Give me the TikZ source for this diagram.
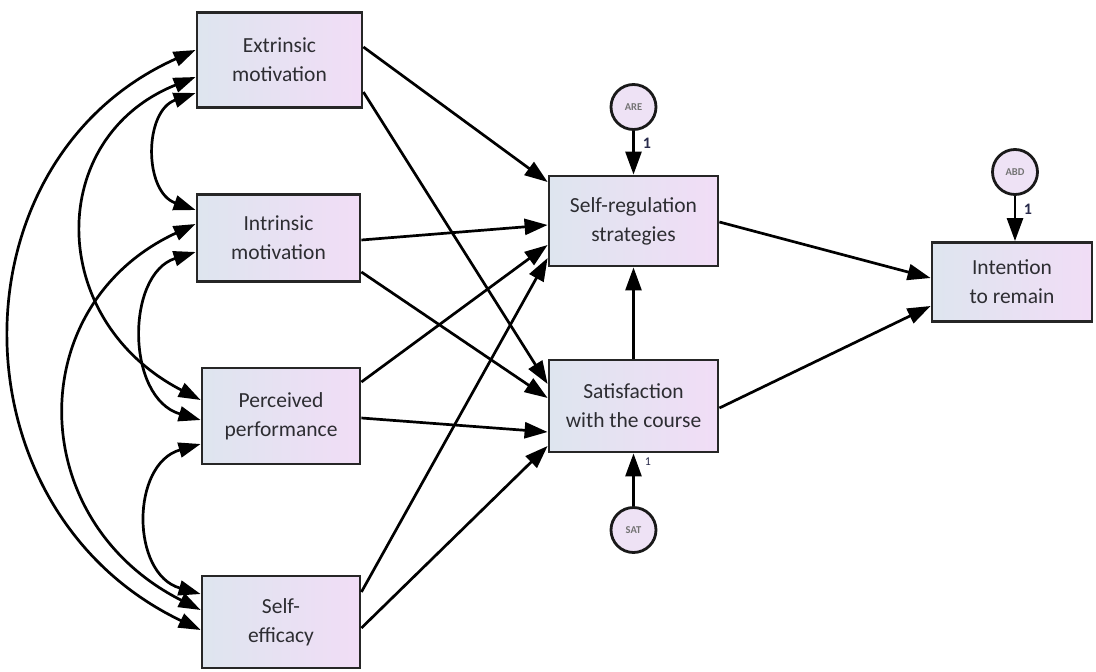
\documentclass[tikz,border=0pt]{standalone}
\usepackage{fontspec}
\setmainfont{Carlito}
\usetikzlibrary{arrows.meta,calc}
\definecolor{bl}{RGB}{222,229,239}
\definecolor{pk}{RGB}{241,221,246}
\definecolor{lav}{RGB}{238,226,245}
\definecolor{tx}{RGB}{45,45,50}
\definecolor{onec}{RGB}{40,42,75}
\begin{document}
\begin{tikzpicture}[x=1pt,y=-1pt,
 box/.style={draw=black!85, line width=2.8pt, left color=bl, right color=pk, align=center,
   font=\fontsize{21.5}{29}\selectfont, text=tx, inner sep=0pt},
 res/.style={circle, draw=black!90, line width=2.8pt, fill=lav, minimum size=45pt, inner sep=0pt,
   font=\fontsize{10.5}{11}\selectfont\bfseries, text=black!55},
 arr/.style={-{Triangle[length=23pt,width=16pt]}, line width=2.7pt},
 cov/.style={{Triangle[length=22pt,width=15pt]}-{Triangle[length=22pt,width=15pt]}, line width=2.7pt},
 one/.style={font=\fontsize{16}{16}\selectfont\bfseries, text=onec, inner sep=0pt}]
\fill[white] (0,0) rectangle (1096,672);
\useasboundingbox (0,0) rectangle (1096,672);
% boxes
\node[box, minimum width=165pt, minimum height=95pt] (ext) at (279.5,60) {Extrinsic\\motivation};
\node[box, minimum width=163pt, minimum height=87pt] (int) at (278.5,238) {Intrinsic\\motivation};
\node[box, minimum width=158pt, minimum height=96pt] (per) at (281,416) {Perceived\\performance};
\node[box, minimum width=158pt, minimum height=92pt] (se) at (281,622) {Self-\\efficacy};
\node[box, minimum width=169pt, minimum height=90pt] (sr) at (633.5,221) {Self-regulation\\strategies};
\node[box, minimum width=169pt, minimum height=92pt] (sat) at (633.5,406) {Satisfaction\\with the course};
\node[box, minimum width=160pt, minimum height=79pt] (itr) at (1012,282) {Intention\\to remain};
% residuals
\node[res] (are) at (633.5,107) {ARE};
\node[res] (abd) at (1015,172) {ABD};
\node[res] (satr) at (633.5,530) {SAT};
\draw[arr] (are.south) -- (are.south |- sr.north);
\draw[arr] (abd.south) -- (abd.south |- itr.north);
\draw[arr] (satr.north) -- (satr.north |- sat.south);
\node[one] (l1) at (647,143) {1};
\node[one] (l2) at (1028,209) {1};
\node[one, font=\fontsize{12}{12}\selectfont] (l3) at (648,462) {1};
% straight paths
\draw[arr] (ext.east |- 0,47) -- (sr.west |- 0,182);
\draw[arr] (ext.east |- 0,92) -- (sat.west |- 0,384);
\draw[arr] (int.east |- 0,240) -- (sr.west |- 0,225);
\draw[arr] (int.east |- 0,272) -- (sat.west |- 0,398);
\draw[arr] (per.east |- 0,382) -- (sr.west |- 0,245);
\draw[arr] (per.east |- 0,418) -- (sat.west |- 0,432);
\draw[arr] (se.east |- 0,592) -- (sr.west |- 0,258);
\draw[arr] (se.east |- 0,628) -- (sat.west |- 0,446);
\draw[arr] (sat.north) -- (sr.south);
\draw[arr] (sr.east |- 0,222) -- (itr.west |- 0,278);
\draw[arr] (sat.east |- 0,408) -- (itr.west |- 0,306);
% covariances
\draw[cov] (ext.west |- 0,93) .. controls +(-52,18) and +(-52,-18) .. (int.west |- 0,210);
\draw[cov] (int.west |- 0,252) .. controls +(-70,22) and +(-75,-22) .. (per.west |- 0,420);
\draw[cov] (per.west |- 0,444) .. controls +(-70,20) and +(-70,-20) .. (se.west |- 0,594);
\draw[cov] (ext.west |- 0,77) .. controls +(-150,60) and +(-155,-80) .. (per.west |- 0,400);
\draw[cov] (int.west |- 0,224) .. controls +(-173,80) and +(-178,-90) .. (se.west |- 0,610);
\draw[cov] (ext.west |- 0,50) .. controls +(-246,110) and +(-251,-120) .. (se.west |- 0,630);
\end{tikzpicture}
\end{document}
